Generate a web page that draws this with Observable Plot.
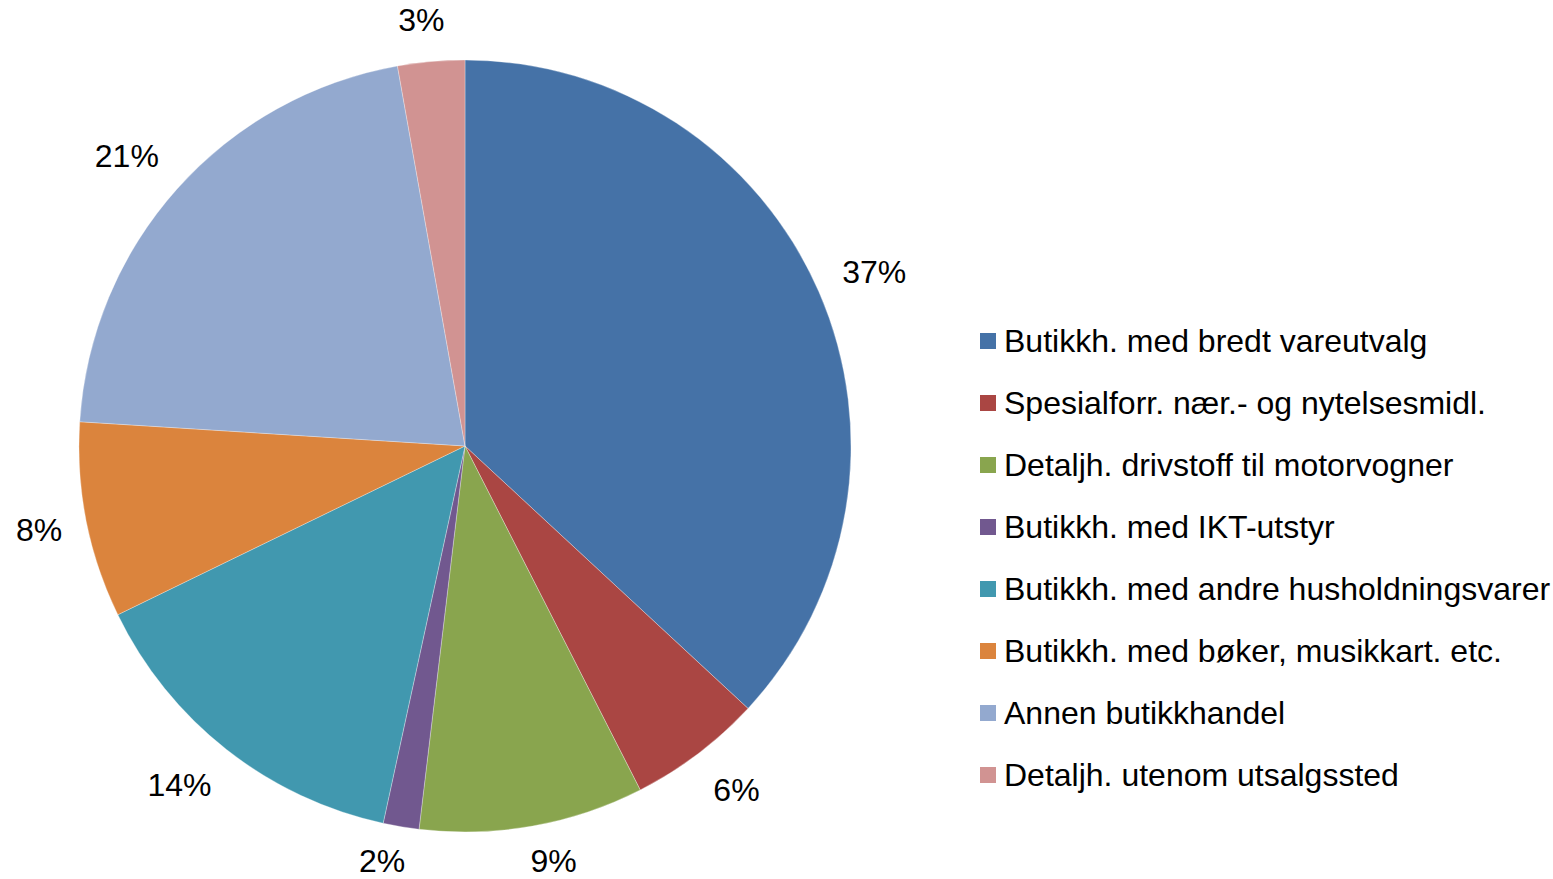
<!DOCTYPE html>
<html><head><meta charset="utf-8">
<script src="https://cdn.jsdelivr.net/npm/d3@7"></script>
<script src="https://cdn.jsdelivr.net/npm/@observablehq/plot@0.6"></script>
<style>
html,body{margin:0;padding:0;background:#fff;}
#wrap{position:relative;width:1553px;height:879px;overflow:hidden;font-family:"Liberation Sans",Arial,sans-serif;}
#chart{position:absolute;left:0;top:0;}
#legend{position:absolute;left:980px;top:310px;width:573px;}
.lg-swatches{font-family:"Liberation Sans",Arial,sans-serif;font-size:32px;color:#000;}
.lg-swatch{height:62px;display:flex;align-items:center;padding:0;margin:0;}
.lg-swatch > svg{margin-right:8px;}
.lg-swatch-label{overflow:visible !important;}
</style></head><body><div id="wrap"><div id="chart"></div><div id="legend"></div></div>
<script>
const categories = [
  "Butikkh. med bredt vareutvalg",
  "Spesialforr. nær.- og nytelsesmidl.",
  "Detaljh. drivstoff til motorvogner",
  "Butikkh. med IKT-utstyr",
  "Butikkh. med andre husholdningsvarer",
  "Butikkh. med bøker, musikkart. etc.",
  "Annen butikkhandel",
  "Detaljh. utenom utsalgssted"
];
const shares = [36.9, 5.6, 9.4, 1.5, 14.4, 8.2, 21.2, 2.8];
const labels = ["37%", "6%", "9%", "2%", "14%", "8%", "21%", "3%"];
const colors = ["#4572A7", "#AA4643", "#89A54E", "#71588F", "#4198AF", "#DB843D", "#93A9CF", "#D19392"];

// layout
const W = 960, H = 879, cx = 465, cy = 446, R = 386, fontSize = 32;
const labelRadius = 1.065;

const data = categories.map((c, i) => ({category: c, share: shares[i], label: labels[i], color: colors[i]}));
const arcs = d3.pie().sort(null).value(d => d.share)(data);
const clamp = v => Math.max(-1, Math.min(1, v));
// lowest label centre allowed, in unit coordinates, so labels stay inside the picture
const yMin = -(H - 0.55 * fontSize - cy) / R;
const yMax = (cy - 0.55 * fontSize) / R;
const labelData = arcs.map(a => {
  const mid = (a.startAngle + a.endAngle) / 2;
  const sx = Math.sin(mid), sy = Math.cos(mid);
  const w = fontSize * (0.556 * (a.data.label.length - 1) + 0.889);
  const hw = w / 2, hh = fontSize / 2;
  const y = labelRadius * sy + hh * clamp(1.5 * sy) / R;
  return {
    label: a.data.label,
    x: labelRadius * sx + hw * clamp(4 * sx) / R,
    y: Math.max(yMin, Math.min(yMax, y))
  };
});

function pieMark(index, scales) {
  const x0 = scales.x(0), y0 = scales.y(0), r = scales.x(1) - scales.x(0);
  const arc = d3.arc().innerRadius(0).outerRadius(r);
  const g = d3.create("svg:g").attr("transform", `translate(${x0},${y0})`);
  g.selectAll("path").data(arcs).join("path")
    .attr("d", arc)
    .attr("fill", d => d.data.color)
    .attr("stroke", "#fff").attr("stroke-width", 0.5).attr("stroke-opacity", 0.6);
  return g.node();
}

const chart = Plot.plot({
  width: W, height: H, margin: 0,
  style: {background: "transparent", fontFamily: "'Liberation Sans', Arial, sans-serif"},
  x: {type: "linear", domain: [-1, 1], range: [cx - R, cx + R], axis: null},
  y: {type: "linear", domain: [-1, 1], range: [cy + R, cy - R], axis: null},
  marks: [
    pieMark,
    Plot.text(labelData, {x: "x", y: "y", text: "label", fontSize, fill: "#000", textAnchor: "middle", lineAnchor: "middle"})
  ]
});
document.getElementById("chart").appendChild(chart);

const legend = Plot.legend({
  color: {type: "ordinal", domain: categories, range: colors},
  legend: "swatches", columns: 1, swatchSize: 16, className: "lg"
});
document.getElementById("legend").appendChild(legend);
</script></body></html>
